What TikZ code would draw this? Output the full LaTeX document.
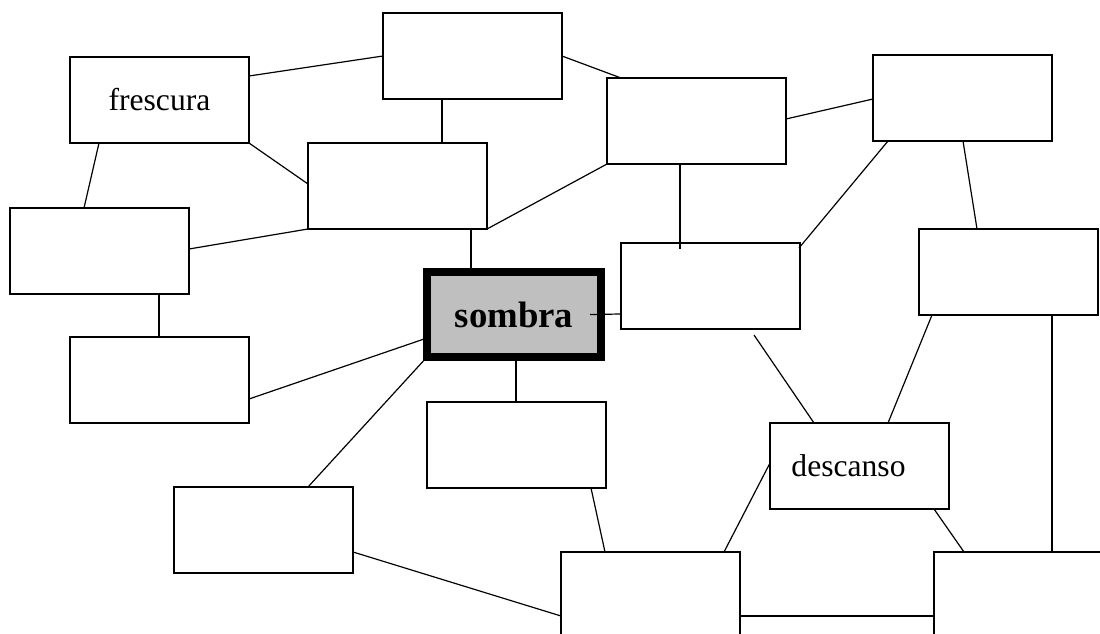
\documentclass[tikz,border=0pt]{standalone}
\usepackage{fontspec}
\setmainfont{Liberation Serif}
\begin{document}
\begin{tikzpicture}[x=1pt,y=-1pt,
  box/.style={draw,line width=1.2pt,fill=white,minimum width=179pt,minimum height=86pt,
    inner sep=0pt,outer sep=0pt,font=\fontsize{31.6}{36}\selectfont},
  hub/.style={draw,line width=8pt,fill=black!25,minimum width=174pt,minimum height=85pt,
    inner sep=0pt,outer sep=0pt,font=\fontsize{36.8}{42}\selectfont\bfseries},
  link/.style={line width=1.2pt}]
\useasboundingbox (0,0) rectangle (1100,634);
\clip (0,0) rectangle (1100,634);
\fill[white] (0,0) rectangle (1100,634);

% boxes
\node[box] (top)  at (472.5,56)  {};
\node[box] (fres) at (159.5,100) {frescura};
\node[box] (mid)  at (397.5,186) {};
\node[box] (lft)  at (99.5,251)  {};
\node[box] (b5)   at (696.5,121) {};
\node[box] (b6)   at (962.5,98)  {};
\node[box] (b7)   at (1008.5,272) {};
\node[hub] (som)  at (514,314.5) {sombra};
\node[box] (b9)   at (710.5,286) {};
\node[box] (b10)  at (159.5,380) {};
\node[box] (b11)  at (516.5,445) {};
\node[box] (desc) at (859.5,466) {descanso\hspace*{22pt}};
\node[box] (b13)  at (263.5,530) {};
\node[box] (b14)  at (650.5,595) {};
\node[box] (b15)  at (1023.5,595) {};

% connectors
\draw[link] ([yshift=-19pt]fres.north east) -- ([yshift=-43pt]top.north west);
\draw[link] ([xshift=59pt]top.south west) -- ([xshift=134pt]mid.north west);
\draw[link] (fres.south east) -- ([yshift=-41pt]mid.north west);
\draw[link] ([xshift=29pt]fres.south west) -- ([xshift=74pt]lft.north west);
\draw[link] ([yshift=-41pt]lft.north east) -- (mid.south west);
\draw[link] (mid.south east) -- (b5.south west);
\draw[link] ([xshift=163pt]mid.south west) -- ([xshift=44pt]som.north west);
\draw[link] ([yshift=-43pt]top.north east) -- ([xshift=14pt]b5.north west);
\draw[link] ([yshift=-41pt]b5.north east) -- ([yshift=-44pt]b6.north west);
\draw[link] ([xshift=73pt]b5.south west) -- ([xshift=59pt,yshift=-6pt]b9.north west);
\draw[link] ([xshift=15pt]b6.south west) -- ([xshift=-1pt,yshift=-5pt]b9.north east);
\draw[link] ([xshift=90pt]b6.south west) -- ([xshift=58pt]b7.north west);
\draw[link] ([xshift=-11pt]som.east) -- ([yshift=-71pt]b9.north west);
\draw[link] ([xshift=89pt]som.south west) -- ([xshift=89pt]b11.north west);
\draw[link] ([xshift=149pt]lft.south west) -- ([xshift=89pt]b10.north west);
\draw[link] ([yshift=-62pt]b10.north east) -- ([yshift=-66pt]som.north west);
\draw[link] (som.south west) -- ([xshift=134pt]b13.north west);
\draw[link] ([yshift=-65pt]b13.north east) -- ([yshift=-64pt]b14.north west);
\draw[link] ([xshift=164pt]b11.south west) -- ([xshift=44pt]b14.north west);
\draw[link] ([xshift=133pt,yshift=-6pt]b9.south west) -- ([xshift=44pt]desc.north west);
\draw[link] ([xshift=13pt]b7.south west) -- ([xshift=118pt]desc.north west);
\draw[link] ([xshift=133pt]b7.south west) -- ([xshift=118pt]b15.north west);
\draw[link] ([yshift=-40pt]desc.north west) -- ([xshift=163pt]b14.north west);
\draw[link] ([xshift=164pt]desc.south west) -- ([xshift=30pt]b15.north west);
\draw[link] ([yshift=-64pt]b14.north east) -- ([yshift=-64pt]b15.north west);
\end{tikzpicture}
\end{document}
